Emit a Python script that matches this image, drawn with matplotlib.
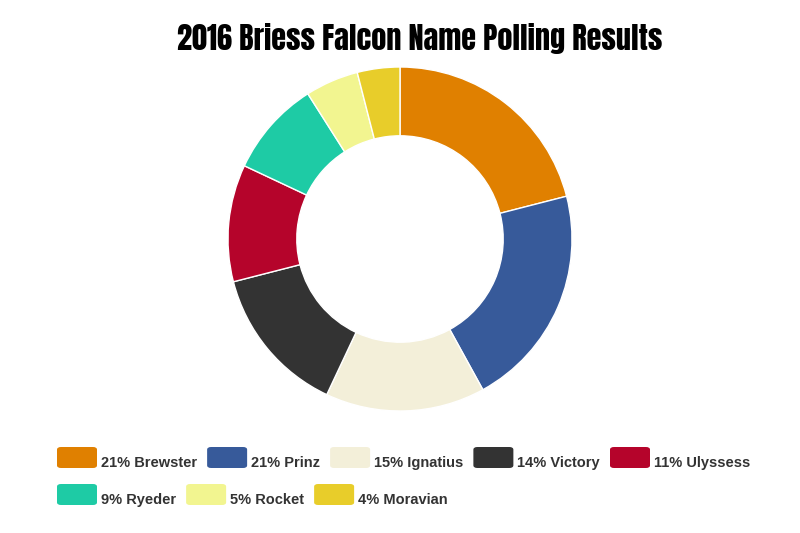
import matplotlib.pyplot as plt
from matplotlib.patches import FancyBboxPatch

# poll data
names = ["Brewster", "Prinz", "Ignatius", "Victory", "Ulyssess", "Ryeder", "Rocket", "Moravian"]
shares = [21, 21, 15, 14, 11, 9, 5, 4]
colors = ["#E08000", "#375A9A", "#F3EFD9", "#333333", "#B5042B", "#1ECBA5", "#F2F590", "#E8CD2A"]

W, H = 800, 533
fig = plt.figure(figsize=(W / 100, H / 100), dpi=100)

# donut
cx, cy, r = 400, 239, 172
ax = fig.add_axes([(cx - r) / W, 1 - (cy + r) / H, 2 * r / W, 2 * r / H])
ax.pie(shares, colors=colors, startangle=90, counterclock=False, radius=1,
       wedgeprops=dict(width=0.4, edgecolor="white", linewidth=1.0))
ax.set_aspect("equal")
ax.set_xlim(-1, 1)
ax.set_ylim(-1, 1)
ax.axis("off")

fig.text(420 / W, 1 - 50 / H, "2016 Briess Falcon Name Polling Results",
         ha="center", va="baseline", fontsize=21.8,
         family=["Anton", "DejaVu Sans"], color="black")

# legend, laid out by hand
renderer = fig.canvas.get_renderer()
x0, x_max = 57, 770
row_y = [447, 484]
sw_w, sw_h = 40, 21
x, row = x0, 0
for name, s, c in zip(names, shares, colors):
    label = f"{s}% {name}"
    t = fig.text(0, 0, label, fontsize=10.55, fontweight="bold",
                 family=["Liberation Sans", "DejaVu Sans"], color="#333333")
    tw = t.get_window_extent(renderer).width
    if x + sw_w + 4 + tw > x_max:
        row += 1
        x = x0
    y = row_y[row]
    patch = FancyBboxPatch((x / W, 1 - (y + sw_h) / H), sw_w / W, sw_h / H,
                           boxstyle="round,pad=0,rounding_size=0.005",
                           transform=fig.transFigure, facecolor=c,
                           edgecolor="none", figure=fig)
    fig.patches.append(patch)
    t.set_position(((x + sw_w + 4) / W, 1 - (y + 20) / H))
    t.set_va("baseline")
    x += sw_w + 4 + tw + 10

fig.savefig("out.png", dpi=100, facecolor="white")
